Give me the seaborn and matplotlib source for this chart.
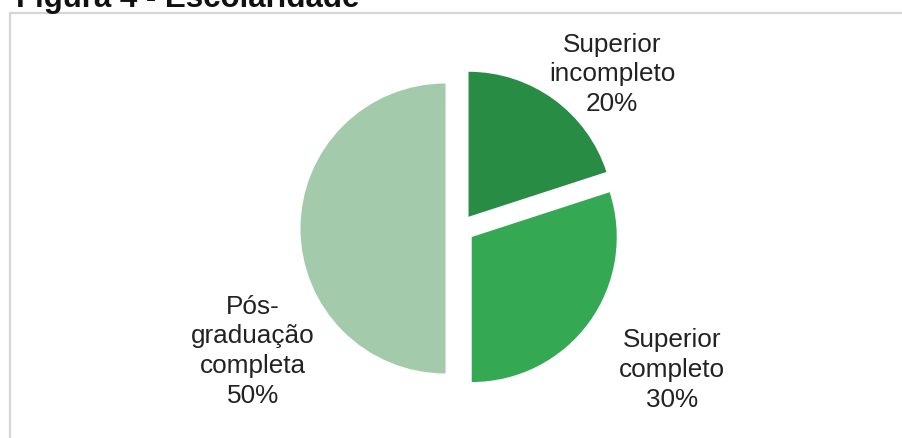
import matplotlib
matplotlib.use("Agg")
import matplotlib.pyplot as plt
from matplotlib.patches import Rectangle
import seaborn as sns

# Education level distribution
categories = ["Superior\nincompleto", "Superior\ncompleto", "Pós-\ngraduação\ncompleta"]
shares = [20, 30, 50]
colors = ["#288C45", "#34A853", "#A3CBAB"]
# label anchor points, in units of the pie radius
label_pos = [(1.05, 1.07), (1.46, -0.97), (-1.43, -0.84)]

sns.set_theme(style="white")
plt.rcParams["font.family"] = ["Liberation Sans", "DejaVu Sans"]

W, H, DPI = 902, 439, 100
fig = plt.figure(figsize=(W / DPI, H / DPI), dpi=DPI)
fig.patch.set_facecolor("white")

# chart frame
frame = Rectangle((10 / W, -0.1), 1.2, (1 - 14 / H) + 0.1,
                  transform=fig.transFigure, fill=False,
                  edgecolor="#d6d6d6", linewidth=1.6, zorder=0)
fig.patches.append(frame)

fig.text(16 / W, 1 - 7.5 / H, "Figura 4 - Escolaridade", fontsize=22.5,
         fontweight="bold", ha="left", va="baseline", color="#111111")

ax = fig.add_axes([0, 0, 1, 1])
ax.patch.set_visible(False)

R = 145.0          # radius in pixels
cx, cy = 460.0, 229.5  # pie centre in pixels (from top-left)

wedges, _ = ax.pie(shares, colors=colors, startangle=90, counterclock=False,
                   explode=[0.1, 0.1, 0.1], radius=1.0,
                   wedgeprops=dict(linewidth=0))

for cat, val, (lx, ly) in zip(categories, shares, label_pos):
    ax.text(lx, ly, f"{cat}\n{val}%", ha="center", va="center",
            fontsize=18.8, color="#222222", linespacing=1.3)

ax.set_aspect("auto")
ax.set_xlim(-cx / R, (W - cx) / R)
ax.set_ylim(-(H - cy) / R, cy / R)
ax.axis("off")

fig.savefig("out.png", dpi=DPI, facecolor="white")
